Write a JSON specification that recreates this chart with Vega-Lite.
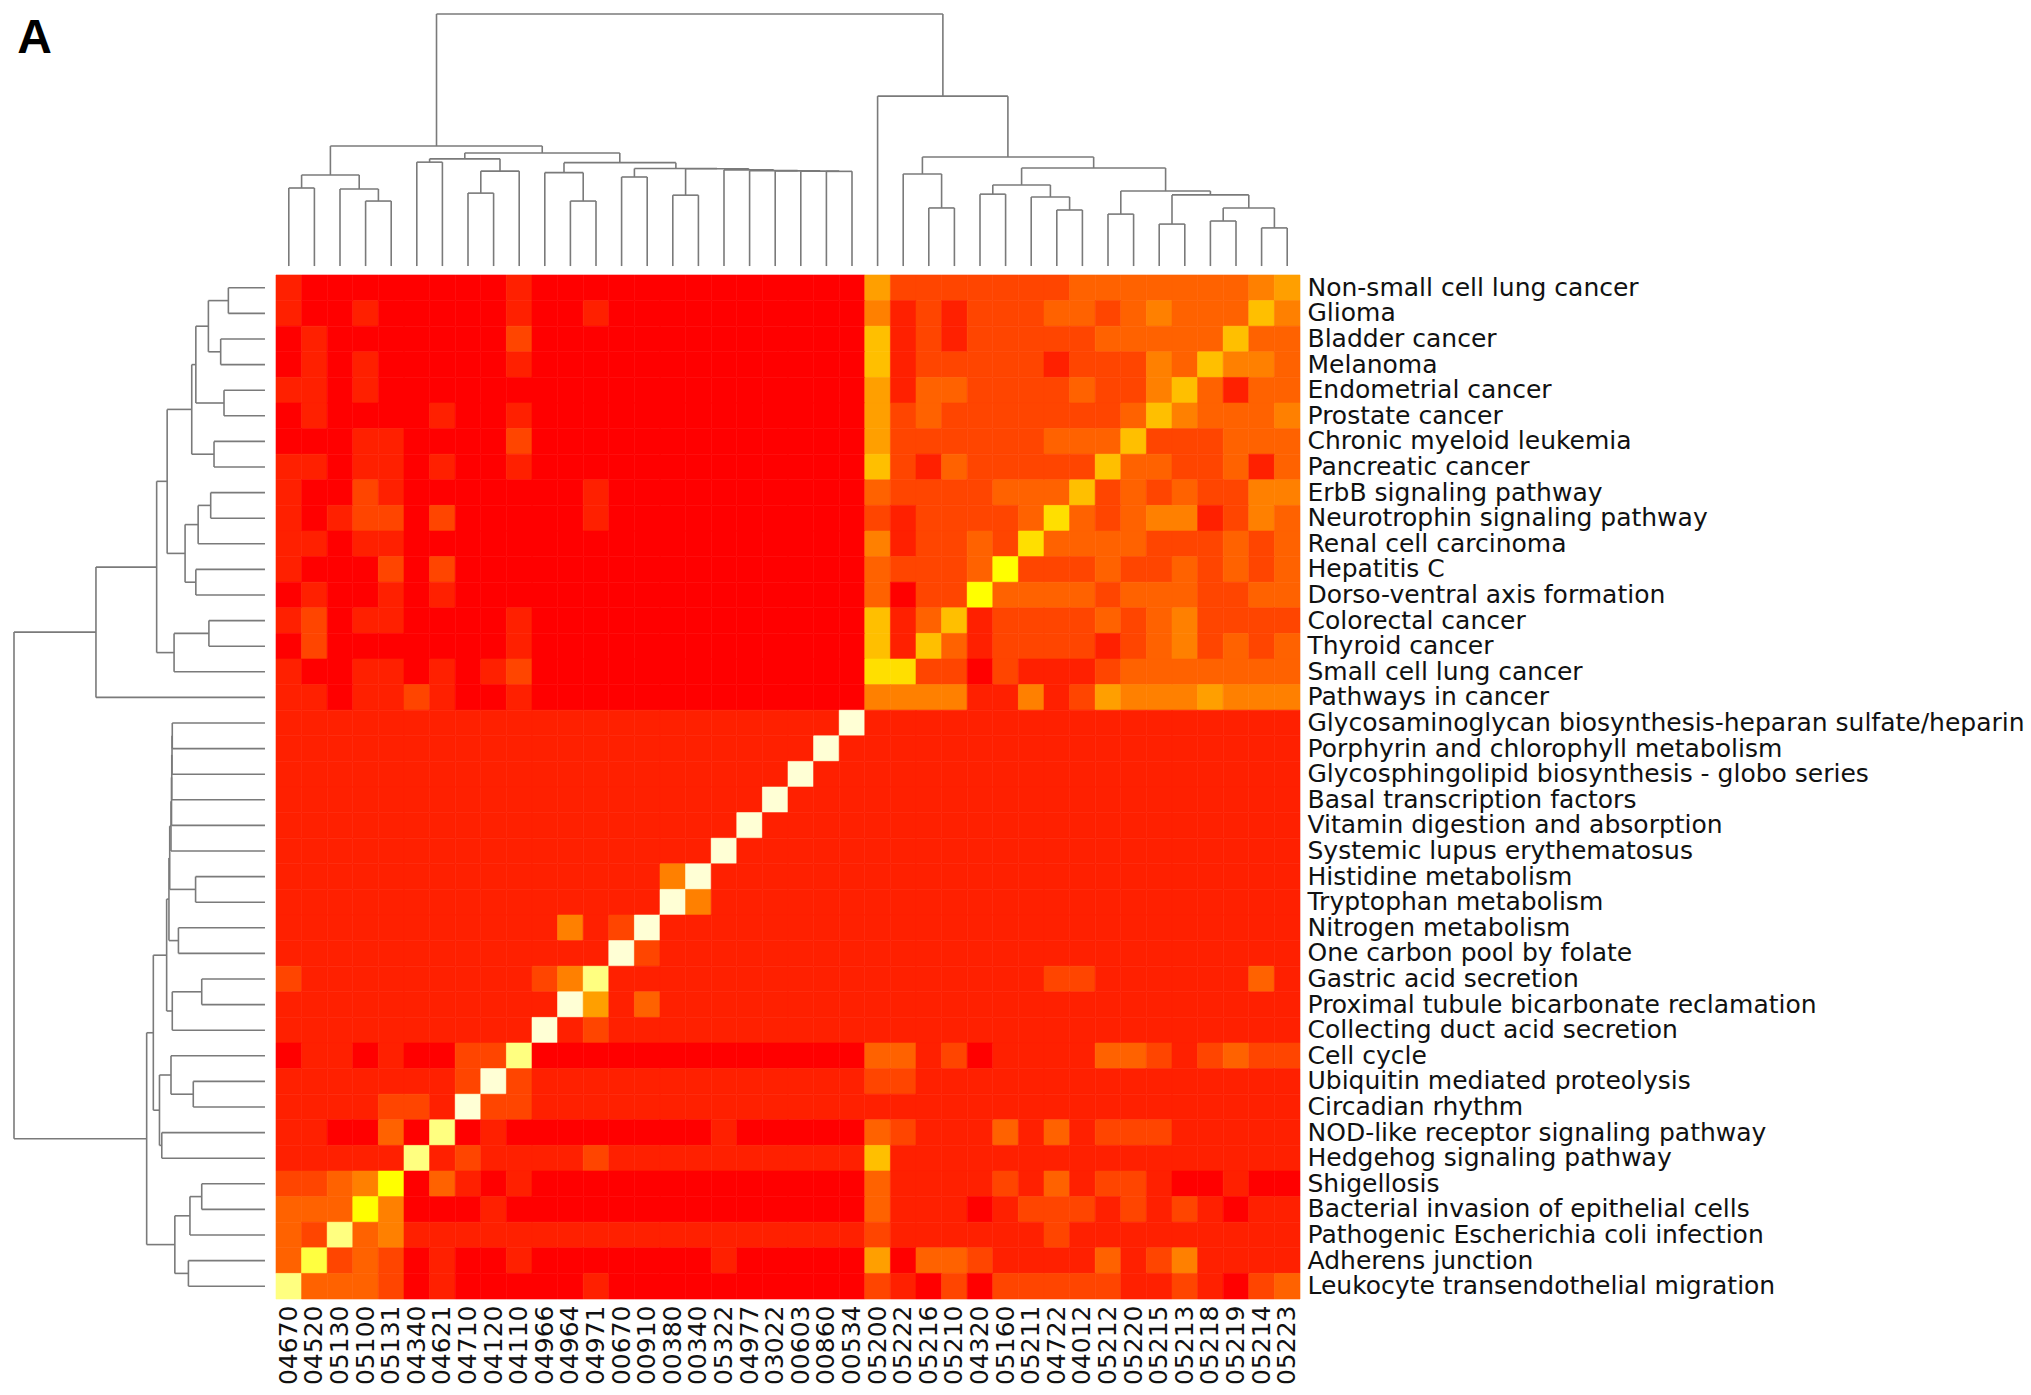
{
"$schema": "https://vega.github.io/schema/vega-lite/v6.json",
"padding": {"left": 13, "top": 13, "right": 4, "bottom": 4},
"background": "#ffffff",
"bounds": "flush",
"spacing": 0,
"columns": 2,
"config": {"view": {"stroke": null}},
"datasets": {
"topTree": [
{"l":0.5,"lh":40.35,"r":1.5,"rh":40.35,"h":43.40},
{"l":3.5,"lh":40.35,"r":4.5,"rh":40.35,"h":42.89},
{"l":2.5,"lh":40.35,"r":4.0,"rh":42.89,"h":43.36},
{"l":1.0,"lh":43.40,"r":3.25,"rh":43.36,"h":43.91},
{"l":5.5,"lh":40.35,"r":6.5,"rh":40.35,"h":44.41},
{"l":7.5,"lh":40.35,"r":8.5,"rh":40.35,"h":43.20},
{"l":8.0,"lh":43.20,"r":9.5,"rh":40.35,"h":44.06},
{"l":6.0,"lh":44.41,"r":8.75,"rh":44.06,"h":44.54},
{"l":11.5,"lh":40.35,"r":12.5,"rh":40.35,"h":42.89},
{"l":10.5,"lh":40.35,"r":12.0,"rh":42.89,"h":44.00},
{"l":13.5,"lh":40.35,"r":14.5,"rh":40.35,"h":43.83},
{"l":15.5,"lh":40.35,"r":16.5,"rh":40.35,"h":43.12},
{"l":21.5,"lh":40.35,"r":22.5,"rh":40.35,"h":44.05},
{"l":20.5,"lh":40.35,"r":22.0,"rh":44.05,"h":44.06},
{"l":19.5,"lh":40.35,"r":21.25,"rh":44.06,"h":44.07},
{"l":18.5,"lh":40.35,"r":20.375,"rh":44.07,"h":44.08},
{"l":17.5,"lh":40.35,"r":19.44,"rh":44.08,"h":44.11},
{"l":16.0,"lh":43.12,"r":18.47,"rh":44.11,"h":44.15},
{"l":14.0,"lh":43.83,"r":17.23,"rh":44.15,"h":44.16},
{"l":11.25,"lh":44.00,"r":15.62,"rh":44.16,"h":44.39},
{"l":7.375,"lh":44.54,"r":13.43,"rh":44.39,"h":44.77},
{"l":2.125,"lh":43.91,"r":10.40,"rh":44.77,"h":45.04},
{"l":25.5,"lh":40.35,"r":26.5,"rh":40.35,"h":42.62},
{"l":24.5,"lh":40.35,"r":26.0,"rh":42.62,"h":43.95},
{"l":27.5,"lh":40.35,"r":28.5,"rh":40.35,"h":43.16},
{"l":30.5,"lh":40.35,"r":31.5,"rh":40.35,"h":42.54},
{"l":29.5,"lh":40.35,"r":31.0,"rh":42.54,"h":43.05},
{"l":28.0,"lh":43.16,"r":30.25,"rh":43.05,"h":43.52},
{"l":32.5,"lh":40.35,"r":33.5,"rh":40.35,"h":42.38},
{"l":34.5,"lh":40.35,"r":35.5,"rh":40.35,"h":41.99},
{"l":36.5,"lh":40.35,"r":37.5,"rh":40.35,"h":42.11},
{"l":38.5,"lh":40.35,"r":39.5,"rh":40.35,"h":41.84},
{"l":37.0,"lh":42.11,"r":39.0,"rh":41.84,"h":42.62},
{"l":35.0,"lh":41.99,"r":38.0,"rh":42.62,"h":43.13},
{"l":33.0,"lh":42.38,"r":36.5,"rh":43.13,"h":43.28},
{"l":29.125,"lh":43.52,"r":34.75,"rh":43.28,"h":44.18},
{"l":25.25,"lh":43.95,"r":31.94,"rh":44.18,"h":44.61},
{"l":23.5,"lh":40.35,"r":28.59,"rh":44.61,"h":46.99},
{"l":6.27,"lh":45.04,"r":26.05,"rh":46.99,"h":50.2}
],
"leftTree": [
{"l":39.5,"lh":-0.43,"r":38.5,"rh":-0.43,"h":-1.86},
{"l":37.5,"lh":-0.43,"r":36.5,"rh":-0.43,"h":-2.16},
{"l":39.0,"lh":-1.86,"r":37.0,"rh":-2.16,"h":-2.64},
{"l":35.5,"lh":-0.43,"r":34.5,"rh":-0.43,"h":-2.03},
{"l":38.0,"lh":-2.64,"r":35.0,"rh":-2.03,"h":-3.13},
{"l":33.5,"lh":-0.43,"r":32.5,"rh":-0.43,"h":-2.42},
{"l":36.5,"lh":-3.13,"r":33.0,"rh":-2.42,"h":-3.29},
{"l":31.5,"lh":-0.43,"r":30.5,"rh":-0.43,"h":-2.55},
{"l":31.0,"lh":-2.55,"r":29.5,"rh":-0.43,"h":-3.04},
{"l":28.5,"lh":-0.43,"r":27.5,"rh":-0.43,"h":-3.13},
{"l":30.25,"lh":-3.04,"r":28.0,"rh":-3.13,"h":-3.55},
{"l":34.75,"lh":-3.29,"r":29.125,"rh":-3.55,"h":-4.25},
{"l":26.5,"lh":-0.43,"r":25.5,"rh":-0.43,"h":-2.62},
{"l":26.0,"lh":-2.62,"r":24.5,"rh":-0.43,"h":-3.98},
{"l":31.94,"lh":-4.25,"r":25.25,"rh":-3.98,"h":-4.66},
{"l":28.59,"lh":-4.66,"r":23.5,"rh":-0.43,"h":-7.03},
{"l":22.5,"lh":-0.43,"r":21.5,"rh":-0.43,"h":-4.05},
{"l":22.0,"lh":-4.05,"r":20.5,"rh":-0.43,"h":-4.06},
{"l":21.25,"lh":-4.06,"r":19.5,"rh":-0.43,"h":-4.07},
{"l":20.375,"lh":-4.07,"r":18.5,"rh":-0.43,"h":-4.08},
{"l":19.44,"lh":-4.08,"r":17.5,"rh":-0.43,"h":-4.10},
{"l":16.5,"lh":-0.43,"r":15.5,"rh":-0.43,"h":-3.14},
{"l":18.47,"lh":-4.10,"r":16.0,"rh":-3.14,"h":-4.15},
{"l":14.5,"lh":-0.43,"r":13.5,"rh":-0.43,"h":-3.81},
{"l":17.23,"lh":-4.15,"r":14.0,"rh":-3.81,"h":-4.18},
{"l":12.5,"lh":-0.43,"r":11.5,"rh":-0.43,"h":-2.90},
{"l":12.0,"lh":-2.90,"r":10.5,"rh":-0.43,"h":-4.05},
{"l":15.62,"lh":-4.18,"r":11.25,"rh":-4.05,"h":-4.27},
{"l":8.5,"lh":-0.43,"r":7.5,"rh":-0.43,"h":-3.23},
{"l":9.5,"lh":-0.43,"r":8.0,"rh":-3.23,"h":-4.10},
{"l":6.5,"lh":-0.43,"r":5.5,"rh":-0.43,"h":-4.46},
{"l":8.75,"lh":-4.10,"r":6.0,"rh":-4.46,"h":-4.55},
{"l":13.43,"lh":-4.27,"r":7.375,"rh":-4.55,"h":-4.79},
{"l":4.5,"lh":-0.43,"r":3.5,"rh":-0.43,"h":-2.90},
{"l":4.0,"lh":-2.90,"r":2.5,"rh":-0.43,"h":-3.36},
{"l":1.5,"lh":-0.43,"r":0.5,"rh":-0.43,"h":-3.42},
{"l":3.25,"lh":-3.36,"r":1.0,"rh":-3.42,"h":-3.95},
{"l":10.40,"lh":-4.79,"r":2.125,"rh":-3.95,"h":-5.05},
{"l":26.05,"lh":-7.03,"r":6.26,"rh":-5.05,"h":-10.23}
],
"cells": [
{"r":1,"c":1,"v":1},{"r":1,"c":2,"v":0},{"r":1,"c":3,"v":0},{"r":1,"c":4,"v":0},{"r":1,"c":5,"v":0},{"r":1,"c":6,"v":0},{"r":1,"c":7,"v":0},{"r":1,"c":8,"v":0},{"r":1,"c":9,"v":0},{"r":1,"c":10,"v":1},{"r":1,"c":11,"v":0},{"r":1,"c":12,"v":0},{"r":1,"c":13,"v":0},{"r":1,"c":14,"v":0},{"r":1,"c":15,"v":0},{"r":1,"c":16,"v":0},{"r":1,"c":17,"v":0},{"r":1,"c":18,"v":0},{"r":1,"c":19,"v":0},{"r":1,"c":20,"v":0},{"r":1,"c":21,"v":0},{"r":1,"c":22,"v":0},{"r":1,"c":23,"v":0},{"r":1,"c":24,"v":5},{"r":1,"c":25,"v":2},{"r":1,"c":26,"v":2},{"r":1,"c":27,"v":2},{"r":1,"c":28,"v":2},{"r":1,"c":29,"v":2},{"r":1,"c":30,"v":2},{"r":1,"c":31,"v":2},{"r":1,"c":32,"v":3},{"r":1,"c":33,"v":3},{"r":1,"c":34,"v":3},{"r":1,"c":35,"v":3},{"r":1,"c":36,"v":3},{"r":1,"c":37,"v":3},{"r":1,"c":38,"v":3},{"r":1,"c":39,"v":4},{"r":1,"c":40,"v":5},
{"r":2,"c":1,"v":1},{"r":2,"c":2,"v":0},{"r":2,"c":3,"v":0},{"r":2,"c":4,"v":1},{"r":2,"c":5,"v":0},{"r":2,"c":6,"v":0},{"r":2,"c":7,"v":0},{"r":2,"c":8,"v":0},{"r":2,"c":9,"v":0},{"r":2,"c":10,"v":1},{"r":2,"c":11,"v":0},{"r":2,"c":12,"v":0},{"r":2,"c":13,"v":1},{"r":2,"c":14,"v":0},{"r":2,"c":15,"v":0},{"r":2,"c":16,"v":0},{"r":2,"c":17,"v":0},{"r":2,"c":18,"v":0},{"r":2,"c":19,"v":0},{"r":2,"c":20,"v":0},{"r":2,"c":21,"v":0},{"r":2,"c":22,"v":0},{"r":2,"c":23,"v":0},{"r":2,"c":24,"v":4},{"r":2,"c":25,"v":1},{"r":2,"c":26,"v":2},{"r":2,"c":27,"v":1},{"r":2,"c":28,"v":2},{"r":2,"c":29,"v":2},{"r":2,"c":30,"v":2},{"r":2,"c":31,"v":3},{"r":2,"c":32,"v":3},{"r":2,"c":33,"v":2},{"r":2,"c":34,"v":3},{"r":2,"c":35,"v":4},{"r":2,"c":36,"v":3},{"r":2,"c":37,"v":3},{"r":2,"c":38,"v":3},{"r":2,"c":39,"v":6},{"r":2,"c":40,"v":4},
{"r":3,"c":1,"v":0},{"r":3,"c":2,"v":1},{"r":3,"c":3,"v":0},{"r":3,"c":4,"v":0},{"r":3,"c":5,"v":0},{"r":3,"c":6,"v":0},{"r":3,"c":7,"v":0},{"r":3,"c":8,"v":0},{"r":3,"c":9,"v":0},{"r":3,"c":10,"v":2},{"r":3,"c":11,"v":0},{"r":3,"c":12,"v":0},{"r":3,"c":13,"v":0},{"r":3,"c":14,"v":0},{"r":3,"c":15,"v":0},{"r":3,"c":16,"v":0},{"r":3,"c":17,"v":0},{"r":3,"c":18,"v":0},{"r":3,"c":19,"v":0},{"r":3,"c":20,"v":0},{"r":3,"c":21,"v":0},{"r":3,"c":22,"v":0},{"r":3,"c":23,"v":0},{"r":3,"c":24,"v":6},{"r":3,"c":25,"v":1},{"r":3,"c":26,"v":2},{"r":3,"c":27,"v":1},{"r":3,"c":28,"v":2},{"r":3,"c":29,"v":2},{"r":3,"c":30,"v":2},{"r":3,"c":31,"v":2},{"r":3,"c":32,"v":2},{"r":3,"c":33,"v":3},{"r":3,"c":34,"v":3},{"r":3,"c":35,"v":3},{"r":3,"c":36,"v":3},{"r":3,"c":37,"v":3},{"r":3,"c":38,"v":6},{"r":3,"c":39,"v":3},{"r":3,"c":40,"v":3},
{"r":4,"c":1,"v":0},{"r":4,"c":2,"v":1},{"r":4,"c":3,"v":0},{"r":4,"c":4,"v":1},{"r":4,"c":5,"v":0},{"r":4,"c":6,"v":0},{"r":4,"c":7,"v":0},{"r":4,"c":8,"v":0},{"r":4,"c":9,"v":0},{"r":4,"c":10,"v":1},{"r":4,"c":11,"v":0},{"r":4,"c":12,"v":0},{"r":4,"c":13,"v":0},{"r":4,"c":14,"v":0},{"r":4,"c":15,"v":0},{"r":4,"c":16,"v":0},{"r":4,"c":17,"v":0},{"r":4,"c":18,"v":0},{"r":4,"c":19,"v":0},{"r":4,"c":20,"v":0},{"r":4,"c":21,"v":0},{"r":4,"c":22,"v":0},{"r":4,"c":23,"v":0},{"r":4,"c":24,"v":6},{"r":4,"c":25,"v":1},{"r":4,"c":26,"v":2},{"r":4,"c":27,"v":2},{"r":4,"c":28,"v":2},{"r":4,"c":29,"v":2},{"r":4,"c":30,"v":2},{"r":4,"c":31,"v":1},{"r":4,"c":32,"v":2},{"r":4,"c":33,"v":2},{"r":4,"c":34,"v":2},{"r":4,"c":35,"v":4},{"r":4,"c":36,"v":3},{"r":4,"c":37,"v":6},{"r":4,"c":38,"v":4},{"r":4,"c":39,"v":4},{"r":4,"c":40,"v":3},
{"r":5,"c":1,"v":1},{"r":5,"c":2,"v":1},{"r":5,"c":3,"v":0},{"r":5,"c":4,"v":1},{"r":5,"c":5,"v":0},{"r":5,"c":6,"v":0},{"r":5,"c":7,"v":0},{"r":5,"c":8,"v":0},{"r":5,"c":9,"v":0},{"r":5,"c":10,"v":0},{"r":5,"c":11,"v":0},{"r":5,"c":12,"v":0},{"r":5,"c":13,"v":0},{"r":5,"c":14,"v":0},{"r":5,"c":15,"v":0},{"r":5,"c":16,"v":0},{"r":5,"c":17,"v":0},{"r":5,"c":18,"v":0},{"r":5,"c":19,"v":0},{"r":5,"c":20,"v":0},{"r":5,"c":21,"v":0},{"r":5,"c":22,"v":0},{"r":5,"c":23,"v":0},{"r":5,"c":24,"v":5},{"r":5,"c":25,"v":1},{"r":5,"c":26,"v":3},{"r":5,"c":27,"v":3},{"r":5,"c":28,"v":2},{"r":5,"c":29,"v":2},{"r":5,"c":30,"v":2},{"r":5,"c":31,"v":2},{"r":5,"c":32,"v":3},{"r":5,"c":33,"v":2},{"r":5,"c":34,"v":2},{"r":5,"c":35,"v":4},{"r":5,"c":36,"v":6},{"r":5,"c":37,"v":3},{"r":5,"c":38,"v":1},{"r":5,"c":39,"v":3},{"r":5,"c":40,"v":3},
{"r":6,"c":1,"v":0},{"r":6,"c":2,"v":1},{"r":6,"c":3,"v":0},{"r":6,"c":4,"v":0},{"r":6,"c":5,"v":0},{"r":6,"c":6,"v":0},{"r":6,"c":7,"v":1},{"r":6,"c":8,"v":0},{"r":6,"c":9,"v":0},{"r":6,"c":10,"v":1},{"r":6,"c":11,"v":0},{"r":6,"c":12,"v":0},{"r":6,"c":13,"v":0},{"r":6,"c":14,"v":0},{"r":6,"c":15,"v":0},{"r":6,"c":16,"v":0},{"r":6,"c":17,"v":0},{"r":6,"c":18,"v":0},{"r":6,"c":19,"v":0},{"r":6,"c":20,"v":0},{"r":6,"c":21,"v":0},{"r":6,"c":22,"v":0},{"r":6,"c":23,"v":0},{"r":6,"c":24,"v":5},{"r":6,"c":25,"v":2},{"r":6,"c":26,"v":3},{"r":6,"c":27,"v":2},{"r":6,"c":28,"v":2},{"r":6,"c":29,"v":2},{"r":6,"c":30,"v":2},{"r":6,"c":31,"v":2},{"r":6,"c":32,"v":2},{"r":6,"c":33,"v":2},{"r":6,"c":34,"v":3},{"r":6,"c":35,"v":6},{"r":6,"c":36,"v":4},{"r":6,"c":37,"v":3},{"r":6,"c":38,"v":3},{"r":6,"c":39,"v":3},{"r":6,"c":40,"v":4},
{"r":7,"c":1,"v":0},{"r":7,"c":2,"v":0},{"r":7,"c":3,"v":0},{"r":7,"c":4,"v":1},{"r":7,"c":5,"v":1},{"r":7,"c":6,"v":0},{"r":7,"c":7,"v":0},{"r":7,"c":8,"v":0},{"r":7,"c":9,"v":0},{"r":7,"c":10,"v":2},{"r":7,"c":11,"v":0},{"r":7,"c":12,"v":0},{"r":7,"c":13,"v":0},{"r":7,"c":14,"v":0},{"r":7,"c":15,"v":0},{"r":7,"c":16,"v":0},{"r":7,"c":17,"v":0},{"r":7,"c":18,"v":0},{"r":7,"c":19,"v":0},{"r":7,"c":20,"v":0},{"r":7,"c":21,"v":0},{"r":7,"c":22,"v":0},{"r":7,"c":23,"v":0},{"r":7,"c":24,"v":5},{"r":7,"c":25,"v":2},{"r":7,"c":26,"v":2},{"r":7,"c":27,"v":2},{"r":7,"c":28,"v":2},{"r":7,"c":29,"v":2},{"r":7,"c":30,"v":2},{"r":7,"c":31,"v":3},{"r":7,"c":32,"v":3},{"r":7,"c":33,"v":3},{"r":7,"c":34,"v":6},{"r":7,"c":35,"v":2},{"r":7,"c":36,"v":2},{"r":7,"c":37,"v":2},{"r":7,"c":38,"v":3},{"r":7,"c":39,"v":3},{"r":7,"c":40,"v":3},
{"r":8,"c":1,"v":1},{"r":8,"c":2,"v":1},{"r":8,"c":3,"v":0},{"r":8,"c":4,"v":1},{"r":8,"c":5,"v":1},{"r":8,"c":6,"v":0},{"r":8,"c":7,"v":1},{"r":8,"c":8,"v":0},{"r":8,"c":9,"v":0},{"r":8,"c":10,"v":1},{"r":8,"c":11,"v":0},{"r":8,"c":12,"v":0},{"r":8,"c":13,"v":0},{"r":8,"c":14,"v":0},{"r":8,"c":15,"v":0},{"r":8,"c":16,"v":0},{"r":8,"c":17,"v":0},{"r":8,"c":18,"v":0},{"r":8,"c":19,"v":0},{"r":8,"c":20,"v":0},{"r":8,"c":21,"v":0},{"r":8,"c":22,"v":0},{"r":8,"c":23,"v":0},{"r":8,"c":24,"v":6},{"r":8,"c":25,"v":2},{"r":8,"c":26,"v":1},{"r":8,"c":27,"v":3},{"r":8,"c":28,"v":2},{"r":8,"c":29,"v":2},{"r":8,"c":30,"v":2},{"r":8,"c":31,"v":2},{"r":8,"c":32,"v":2},{"r":8,"c":33,"v":6},{"r":8,"c":34,"v":3},{"r":8,"c":35,"v":3},{"r":8,"c":36,"v":2},{"r":8,"c":37,"v":2},{"r":8,"c":38,"v":3},{"r":8,"c":39,"v":1},{"r":8,"c":40,"v":3},
{"r":9,"c":1,"v":1},{"r":9,"c":2,"v":0},{"r":9,"c":3,"v":0},{"r":9,"c":4,"v":2},{"r":9,"c":5,"v":1},{"r":9,"c":6,"v":0},{"r":9,"c":7,"v":0},{"r":9,"c":8,"v":0},{"r":9,"c":9,"v":0},{"r":9,"c":10,"v":0},{"r":9,"c":11,"v":0},{"r":9,"c":12,"v":0},{"r":9,"c":13,"v":1},{"r":9,"c":14,"v":0},{"r":9,"c":15,"v":0},{"r":9,"c":16,"v":0},{"r":9,"c":17,"v":0},{"r":9,"c":18,"v":0},{"r":9,"c":19,"v":0},{"r":9,"c":20,"v":0},{"r":9,"c":21,"v":0},{"r":9,"c":22,"v":0},{"r":9,"c":23,"v":0},{"r":9,"c":24,"v":3},{"r":9,"c":25,"v":2},{"r":9,"c":26,"v":2},{"r":9,"c":27,"v":2},{"r":9,"c":28,"v":2},{"r":9,"c":29,"v":3},{"r":9,"c":30,"v":3},{"r":9,"c":31,"v":3},{"r":9,"c":32,"v":6},{"r":9,"c":33,"v":2},{"r":9,"c":34,"v":3},{"r":9,"c":35,"v":2},{"r":9,"c":36,"v":3},{"r":9,"c":37,"v":2},{"r":9,"c":38,"v":2},{"r":9,"c":39,"v":4},{"r":9,"c":40,"v":4},
{"r":10,"c":1,"v":1},{"r":10,"c":2,"v":0},{"r":10,"c":3,"v":1},{"r":10,"c":4,"v":2},{"r":10,"c":5,"v":2},{"r":10,"c":6,"v":0},{"r":10,"c":7,"v":2},{"r":10,"c":8,"v":0},{"r":10,"c":9,"v":0},{"r":10,"c":10,"v":0},{"r":10,"c":11,"v":0},{"r":10,"c":12,"v":0},{"r":10,"c":13,"v":1},{"r":10,"c":14,"v":0},{"r":10,"c":15,"v":0},{"r":10,"c":16,"v":0},{"r":10,"c":17,"v":0},{"r":10,"c":18,"v":0},{"r":10,"c":19,"v":0},{"r":10,"c":20,"v":0},{"r":10,"c":21,"v":0},{"r":10,"c":22,"v":0},{"r":10,"c":23,"v":0},{"r":10,"c":24,"v":2},{"r":10,"c":25,"v":1},{"r":10,"c":26,"v":2},{"r":10,"c":27,"v":2},{"r":10,"c":28,"v":2},{"r":10,"c":29,"v":2},{"r":10,"c":30,"v":3},{"r":10,"c":31,"v":7},{"r":10,"c":32,"v":3},{"r":10,"c":33,"v":2},{"r":10,"c":34,"v":3},{"r":10,"c":35,"v":4},{"r":10,"c":36,"v":4},{"r":10,"c":37,"v":1},{"r":10,"c":38,"v":2},{"r":10,"c":39,"v":4},{"r":10,"c":40,"v":3},
{"r":11,"c":1,"v":1},{"r":11,"c":2,"v":1},{"r":11,"c":3,"v":0},{"r":11,"c":4,"v":1},{"r":11,"c":5,"v":1},{"r":11,"c":6,"v":0},{"r":11,"c":7,"v":0},{"r":11,"c":8,"v":0},{"r":11,"c":9,"v":0},{"r":11,"c":10,"v":0},{"r":11,"c":11,"v":0},{"r":11,"c":12,"v":0},{"r":11,"c":13,"v":0},{"r":11,"c":14,"v":0},{"r":11,"c":15,"v":0},{"r":11,"c":16,"v":0},{"r":11,"c":17,"v":0},{"r":11,"c":18,"v":0},{"r":11,"c":19,"v":0},{"r":11,"c":20,"v":0},{"r":11,"c":21,"v":0},{"r":11,"c":22,"v":0},{"r":11,"c":23,"v":0},{"r":11,"c":24,"v":4},{"r":11,"c":25,"v":1},{"r":11,"c":26,"v":2},{"r":11,"c":27,"v":2},{"r":11,"c":28,"v":3},{"r":11,"c":29,"v":2},{"r":11,"c":30,"v":7},{"r":11,"c":31,"v":3},{"r":11,"c":32,"v":3},{"r":11,"c":33,"v":3},{"r":11,"c":34,"v":3},{"r":11,"c":35,"v":2},{"r":11,"c":36,"v":2},{"r":11,"c":37,"v":2},{"r":11,"c":38,"v":3},{"r":11,"c":39,"v":2},{"r":11,"c":40,"v":3},
{"r":12,"c":1,"v":1},{"r":12,"c":2,"v":0},{"r":12,"c":3,"v":0},{"r":12,"c":4,"v":0},{"r":12,"c":5,"v":2},{"r":12,"c":6,"v":0},{"r":12,"c":7,"v":2},{"r":12,"c":8,"v":0},{"r":12,"c":9,"v":0},{"r":12,"c":10,"v":0},{"r":12,"c":11,"v":0},{"r":12,"c":12,"v":0},{"r":12,"c":13,"v":0},{"r":12,"c":14,"v":0},{"r":12,"c":15,"v":0},{"r":12,"c":16,"v":0},{"r":12,"c":17,"v":0},{"r":12,"c":18,"v":0},{"r":12,"c":19,"v":0},{"r":12,"c":20,"v":0},{"r":12,"c":21,"v":0},{"r":12,"c":22,"v":0},{"r":12,"c":23,"v":0},{"r":12,"c":24,"v":3},{"r":12,"c":25,"v":2},{"r":12,"c":26,"v":2},{"r":12,"c":27,"v":2},{"r":12,"c":28,"v":3},{"r":12,"c":29,"v":8},{"r":12,"c":30,"v":2},{"r":12,"c":31,"v":2},{"r":12,"c":32,"v":2},{"r":12,"c":33,"v":3},{"r":12,"c":34,"v":2},{"r":12,"c":35,"v":2},{"r":12,"c":36,"v":3},{"r":12,"c":37,"v":2},{"r":12,"c":38,"v":3},{"r":12,"c":39,"v":2},{"r":12,"c":40,"v":3},
{"r":13,"c":1,"v":0},{"r":13,"c":2,"v":1},{"r":13,"c":3,"v":0},{"r":13,"c":4,"v":0},{"r":13,"c":5,"v":1},{"r":13,"c":6,"v":0},{"r":13,"c":7,"v":1},{"r":13,"c":8,"v":0},{"r":13,"c":9,"v":0},{"r":13,"c":10,"v":0},{"r":13,"c":11,"v":0},{"r":13,"c":12,"v":0},{"r":13,"c":13,"v":0},{"r":13,"c":14,"v":0},{"r":13,"c":15,"v":0},{"r":13,"c":16,"v":0},{"r":13,"c":17,"v":0},{"r":13,"c":18,"v":0},{"r":13,"c":19,"v":0},{"r":13,"c":20,"v":0},{"r":13,"c":21,"v":0},{"r":13,"c":22,"v":0},{"r":13,"c":23,"v":0},{"r":13,"c":24,"v":3},{"r":13,"c":25,"v":0},{"r":13,"c":26,"v":2},{"r":13,"c":27,"v":2},{"r":13,"c":28,"v":8},{"r":13,"c":29,"v":3},{"r":13,"c":30,"v":3},{"r":13,"c":31,"v":3},{"r":13,"c":32,"v":3},{"r":13,"c":33,"v":2},{"r":13,"c":34,"v":3},{"r":13,"c":35,"v":3},{"r":13,"c":36,"v":3},{"r":13,"c":37,"v":2},{"r":13,"c":38,"v":2},{"r":13,"c":39,"v":3},{"r":13,"c":40,"v":3},
{"r":14,"c":1,"v":1},{"r":14,"c":2,"v":2},{"r":14,"c":3,"v":0},{"r":14,"c":4,"v":1},{"r":14,"c":5,"v":1},{"r":14,"c":6,"v":0},{"r":14,"c":7,"v":0},{"r":14,"c":8,"v":0},{"r":14,"c":9,"v":0},{"r":14,"c":10,"v":1},{"r":14,"c":11,"v":0},{"r":14,"c":12,"v":0},{"r":14,"c":13,"v":0},{"r":14,"c":14,"v":0},{"r":14,"c":15,"v":0},{"r":14,"c":16,"v":0},{"r":14,"c":17,"v":0},{"r":14,"c":18,"v":0},{"r":14,"c":19,"v":0},{"r":14,"c":20,"v":0},{"r":14,"c":21,"v":0},{"r":14,"c":22,"v":0},{"r":14,"c":23,"v":0},{"r":14,"c":24,"v":6},{"r":14,"c":25,"v":1},{"r":14,"c":26,"v":3},{"r":14,"c":27,"v":6},{"r":14,"c":28,"v":1},{"r":14,"c":29,"v":2},{"r":14,"c":30,"v":2},{"r":14,"c":31,"v":2},{"r":14,"c":32,"v":2},{"r":14,"c":33,"v":3},{"r":14,"c":34,"v":2},{"r":14,"c":35,"v":3},{"r":14,"c":36,"v":4},{"r":14,"c":37,"v":2},{"r":14,"c":38,"v":2},{"r":14,"c":39,"v":2},{"r":14,"c":40,"v":2},
{"r":15,"c":1,"v":0},{"r":15,"c":2,"v":2},{"r":15,"c":3,"v":0},{"r":15,"c":4,"v":0},{"r":15,"c":5,"v":0},{"r":15,"c":6,"v":0},{"r":15,"c":7,"v":0},{"r":15,"c":8,"v":0},{"r":15,"c":9,"v":0},{"r":15,"c":10,"v":1},{"r":15,"c":11,"v":0},{"r":15,"c":12,"v":0},{"r":15,"c":13,"v":0},{"r":15,"c":14,"v":0},{"r":15,"c":15,"v":0},{"r":15,"c":16,"v":0},{"r":15,"c":17,"v":0},{"r":15,"c":18,"v":0},{"r":15,"c":19,"v":0},{"r":15,"c":20,"v":0},{"r":15,"c":21,"v":0},{"r":15,"c":22,"v":0},{"r":15,"c":23,"v":0},{"r":15,"c":24,"v":6},{"r":15,"c":25,"v":1},{"r":15,"c":26,"v":6},{"r":15,"c":27,"v":3},{"r":15,"c":28,"v":1},{"r":15,"c":29,"v":2},{"r":15,"c":30,"v":2},{"r":15,"c":31,"v":2},{"r":15,"c":32,"v":2},{"r":15,"c":33,"v":1},{"r":15,"c":34,"v":2},{"r":15,"c":35,"v":3},{"r":15,"c":36,"v":4},{"r":15,"c":37,"v":2},{"r":15,"c":38,"v":3},{"r":15,"c":39,"v":2},{"r":15,"c":40,"v":3},
{"r":16,"c":1,"v":1},{"r":16,"c":2,"v":0},{"r":16,"c":3,"v":0},{"r":16,"c":4,"v":1},{"r":16,"c":5,"v":1},{"r":16,"c":6,"v":0},{"r":16,"c":7,"v":1},{"r":16,"c":8,"v":0},{"r":16,"c":9,"v":1},{"r":16,"c":10,"v":2},{"r":16,"c":11,"v":0},{"r":16,"c":12,"v":0},{"r":16,"c":13,"v":0},{"r":16,"c":14,"v":0},{"r":16,"c":15,"v":0},{"r":16,"c":16,"v":0},{"r":16,"c":17,"v":0},{"r":16,"c":18,"v":0},{"r":16,"c":19,"v":0},{"r":16,"c":20,"v":0},{"r":16,"c":21,"v":0},{"r":16,"c":22,"v":0},{"r":16,"c":23,"v":0},{"r":16,"c":24,"v":7},{"r":16,"c":25,"v":7},{"r":16,"c":26,"v":2},{"r":16,"c":27,"v":2},{"r":16,"c":28,"v":0},{"r":16,"c":29,"v":2},{"r":16,"c":30,"v":1},{"r":16,"c":31,"v":1},{"r":16,"c":32,"v":1},{"r":16,"c":33,"v":2},{"r":16,"c":34,"v":3},{"r":16,"c":35,"v":3},{"r":16,"c":36,"v":3},{"r":16,"c":37,"v":3},{"r":16,"c":38,"v":3},{"r":16,"c":39,"v":3},{"r":16,"c":40,"v":3},
{"r":17,"c":1,"v":1},{"r":17,"c":2,"v":1},{"r":17,"c":3,"v":0},{"r":17,"c":4,"v":1},{"r":17,"c":5,"v":1},{"r":17,"c":6,"v":2},{"r":17,"c":7,"v":1},{"r":17,"c":8,"v":0},{"r":17,"c":9,"v":0},{"r":17,"c":10,"v":1},{"r":17,"c":11,"v":0},{"r":17,"c":12,"v":0},{"r":17,"c":13,"v":0},{"r":17,"c":14,"v":0},{"r":17,"c":15,"v":0},{"r":17,"c":16,"v":0},{"r":17,"c":17,"v":0},{"r":17,"c":18,"v":0},{"r":17,"c":19,"v":0},{"r":17,"c":20,"v":0},{"r":17,"c":21,"v":0},{"r":17,"c":22,"v":0},{"r":17,"c":23,"v":0},{"r":17,"c":24,"v":4},{"r":17,"c":25,"v":4},{"r":17,"c":26,"v":4},{"r":17,"c":27,"v":4},{"r":17,"c":28,"v":1},{"r":17,"c":29,"v":1},{"r":17,"c":30,"v":4},{"r":17,"c":31,"v":1},{"r":17,"c":32,"v":2},{"r":17,"c":33,"v":5},{"r":17,"c":34,"v":4},{"r":17,"c":35,"v":4},{"r":17,"c":36,"v":4},{"r":17,"c":37,"v":5},{"r":17,"c":38,"v":4},{"r":17,"c":39,"v":4},{"r":17,"c":40,"v":4},
{"r":18,"c":1,"v":1},{"r":18,"c":2,"v":1},{"r":18,"c":3,"v":1},{"r":18,"c":4,"v":1},{"r":18,"c":5,"v":1},{"r":18,"c":6,"v":1},{"r":18,"c":7,"v":1},{"r":18,"c":8,"v":1},{"r":18,"c":9,"v":1},{"r":18,"c":10,"v":1},{"r":18,"c":11,"v":1},{"r":18,"c":12,"v":1},{"r":18,"c":13,"v":1},{"r":18,"c":14,"v":1},{"r":18,"c":15,"v":1},{"r":18,"c":16,"v":1},{"r":18,"c":17,"v":1},{"r":18,"c":18,"v":1},{"r":18,"c":19,"v":1},{"r":18,"c":20,"v":1},{"r":18,"c":21,"v":1},{"r":18,"c":22,"v":1},{"r":18,"c":23,"v":11},{"r":18,"c":24,"v":1},{"r":18,"c":25,"v":1},{"r":18,"c":26,"v":1},{"r":18,"c":27,"v":1},{"r":18,"c":28,"v":1},{"r":18,"c":29,"v":1},{"r":18,"c":30,"v":1},{"r":18,"c":31,"v":1},{"r":18,"c":32,"v":1},{"r":18,"c":33,"v":1},{"r":18,"c":34,"v":1},{"r":18,"c":35,"v":1},{"r":18,"c":36,"v":1},{"r":18,"c":37,"v":1},{"r":18,"c":38,"v":1},{"r":18,"c":39,"v":1},{"r":18,"c":40,"v":1},
{"r":19,"c":1,"v":1},{"r":19,"c":2,"v":1},{"r":19,"c":3,"v":1},{"r":19,"c":4,"v":1},{"r":19,"c":5,"v":1},{"r":19,"c":6,"v":1},{"r":19,"c":7,"v":1},{"r":19,"c":8,"v":1},{"r":19,"c":9,"v":1},{"r":19,"c":10,"v":1},{"r":19,"c":11,"v":1},{"r":19,"c":12,"v":1},{"r":19,"c":13,"v":1},{"r":19,"c":14,"v":1},{"r":19,"c":15,"v":1},{"r":19,"c":16,"v":1},{"r":19,"c":17,"v":1},{"r":19,"c":18,"v":1},{"r":19,"c":19,"v":1},{"r":19,"c":20,"v":1},{"r":19,"c":21,"v":1},{"r":19,"c":22,"v":11},{"r":19,"c":23,"v":1},{"r":19,"c":24,"v":1},{"r":19,"c":25,"v":1},{"r":19,"c":26,"v":1},{"r":19,"c":27,"v":1},{"r":19,"c":28,"v":1},{"r":19,"c":29,"v":1},{"r":19,"c":30,"v":1},{"r":19,"c":31,"v":1},{"r":19,"c":32,"v":1},{"r":19,"c":33,"v":1},{"r":19,"c":34,"v":1},{"r":19,"c":35,"v":1},{"r":19,"c":36,"v":1},{"r":19,"c":37,"v":1},{"r":19,"c":38,"v":1},{"r":19,"c":39,"v":1},{"r":19,"c":40,"v":1},
{"r":20,"c":1,"v":1},{"r":20,"c":2,"v":1},{"r":20,"c":3,"v":1},{"r":20,"c":4,"v":1},{"r":20,"c":5,"v":1},{"r":20,"c":6,"v":1},{"r":20,"c":7,"v":1},{"r":20,"c":8,"v":1},{"r":20,"c":9,"v":1},{"r":20,"c":10,"v":1},{"r":20,"c":11,"v":1},{"r":20,"c":12,"v":1},{"r":20,"c":13,"v":1},{"r":20,"c":14,"v":1},{"r":20,"c":15,"v":1},{"r":20,"c":16,"v":1},{"r":20,"c":17,"v":1},{"r":20,"c":18,"v":1},{"r":20,"c":19,"v":1},{"r":20,"c":20,"v":1},{"r":20,"c":21,"v":11},{"r":20,"c":22,"v":1},{"r":20,"c":23,"v":1},{"r":20,"c":24,"v":1},{"r":20,"c":25,"v":1},{"r":20,"c":26,"v":1},{"r":20,"c":27,"v":1},{"r":20,"c":28,"v":1},{"r":20,"c":29,"v":1},{"r":20,"c":30,"v":1},{"r":20,"c":31,"v":1},{"r":20,"c":32,"v":1},{"r":20,"c":33,"v":1},{"r":20,"c":34,"v":1},{"r":20,"c":35,"v":1},{"r":20,"c":36,"v":1},{"r":20,"c":37,"v":1},{"r":20,"c":38,"v":1},{"r":20,"c":39,"v":1},{"r":20,"c":40,"v":1},
{"r":21,"c":1,"v":1},{"r":21,"c":2,"v":1},{"r":21,"c":3,"v":1},{"r":21,"c":4,"v":1},{"r":21,"c":5,"v":1},{"r":21,"c":6,"v":1},{"r":21,"c":7,"v":1},{"r":21,"c":8,"v":1},{"r":21,"c":9,"v":1},{"r":21,"c":10,"v":1},{"r":21,"c":11,"v":1},{"r":21,"c":12,"v":1},{"r":21,"c":13,"v":1},{"r":21,"c":14,"v":1},{"r":21,"c":15,"v":1},{"r":21,"c":16,"v":1},{"r":21,"c":17,"v":1},{"r":21,"c":18,"v":1},{"r":21,"c":19,"v":1},{"r":21,"c":20,"v":11},{"r":21,"c":21,"v":1},{"r":21,"c":22,"v":1},{"r":21,"c":23,"v":1},{"r":21,"c":24,"v":1},{"r":21,"c":25,"v":1},{"r":21,"c":26,"v":1},{"r":21,"c":27,"v":1},{"r":21,"c":28,"v":1},{"r":21,"c":29,"v":1},{"r":21,"c":30,"v":1},{"r":21,"c":31,"v":1},{"r":21,"c":32,"v":1},{"r":21,"c":33,"v":1},{"r":21,"c":34,"v":1},{"r":21,"c":35,"v":1},{"r":21,"c":36,"v":1},{"r":21,"c":37,"v":1},{"r":21,"c":38,"v":1},{"r":21,"c":39,"v":1},{"r":21,"c":40,"v":1},
{"r":22,"c":1,"v":1},{"r":22,"c":2,"v":1},{"r":22,"c":3,"v":1},{"r":22,"c":4,"v":1},{"r":22,"c":5,"v":1},{"r":22,"c":6,"v":1},{"r":22,"c":7,"v":1},{"r":22,"c":8,"v":1},{"r":22,"c":9,"v":1},{"r":22,"c":10,"v":1},{"r":22,"c":11,"v":1},{"r":22,"c":12,"v":1},{"r":22,"c":13,"v":1},{"r":22,"c":14,"v":1},{"r":22,"c":15,"v":1},{"r":22,"c":16,"v":1},{"r":22,"c":17,"v":1},{"r":22,"c":18,"v":1},{"r":22,"c":19,"v":11},{"r":22,"c":20,"v":1},{"r":22,"c":21,"v":1},{"r":22,"c":22,"v":1},{"r":22,"c":23,"v":1},{"r":22,"c":24,"v":1},{"r":22,"c":25,"v":1},{"r":22,"c":26,"v":1},{"r":22,"c":27,"v":1},{"r":22,"c":28,"v":1},{"r":22,"c":29,"v":1},{"r":22,"c":30,"v":1},{"r":22,"c":31,"v":1},{"r":22,"c":32,"v":1},{"r":22,"c":33,"v":1},{"r":22,"c":34,"v":1},{"r":22,"c":35,"v":1},{"r":22,"c":36,"v":1},{"r":22,"c":37,"v":1},{"r":22,"c":38,"v":1},{"r":22,"c":39,"v":1},{"r":22,"c":40,"v":1},
{"r":23,"c":1,"v":1},{"r":23,"c":2,"v":1},{"r":23,"c":3,"v":1},{"r":23,"c":4,"v":1},{"r":23,"c":5,"v":1},{"r":23,"c":6,"v":1},{"r":23,"c":7,"v":1},{"r":23,"c":8,"v":1},{"r":23,"c":9,"v":1},{"r":23,"c":10,"v":1},{"r":23,"c":11,"v":1},{"r":23,"c":12,"v":1},{"r":23,"c":13,"v":1},{"r":23,"c":14,"v":1},{"r":23,"c":15,"v":1},{"r":23,"c":16,"v":1},{"r":23,"c":17,"v":1},{"r":23,"c":18,"v":11},{"r":23,"c":19,"v":1},{"r":23,"c":20,"v":1},{"r":23,"c":21,"v":1},{"r":23,"c":22,"v":1},{"r":23,"c":23,"v":1},{"r":23,"c":24,"v":1},{"r":23,"c":25,"v":1},{"r":23,"c":26,"v":1},{"r":23,"c":27,"v":1},{"r":23,"c":28,"v":1},{"r":23,"c":29,"v":1},{"r":23,"c":30,"v":1},{"r":23,"c":31,"v":1},{"r":23,"c":32,"v":1},{"r":23,"c":33,"v":1},{"r":23,"c":34,"v":1},{"r":23,"c":35,"v":1},{"r":23,"c":36,"v":1},{"r":23,"c":37,"v":1},{"r":23,"c":38,"v":1},{"r":23,"c":39,"v":1},{"r":23,"c":40,"v":1},
{"r":24,"c":1,"v":1},{"r":24,"c":2,"v":1},{"r":24,"c":3,"v":1},{"r":24,"c":4,"v":1},{"r":24,"c":5,"v":1},{"r":24,"c":6,"v":1},{"r":24,"c":7,"v":1},{"r":24,"c":8,"v":1},{"r":24,"c":9,"v":1},{"r":24,"c":10,"v":1},{"r":24,"c":11,"v":1},{"r":24,"c":12,"v":1},{"r":24,"c":13,"v":1},{"r":24,"c":14,"v":1},{"r":24,"c":15,"v":1},{"r":24,"c":16,"v":4},{"r":24,"c":17,"v":11},{"r":24,"c":18,"v":1},{"r":24,"c":19,"v":1},{"r":24,"c":20,"v":1},{"r":24,"c":21,"v":1},{"r":24,"c":22,"v":1},{"r":24,"c":23,"v":1},{"r":24,"c":24,"v":1},{"r":24,"c":25,"v":1},{"r":24,"c":26,"v":1},{"r":24,"c":27,"v":1},{"r":24,"c":28,"v":1},{"r":24,"c":29,"v":1},{"r":24,"c":30,"v":1},{"r":24,"c":31,"v":1},{"r":24,"c":32,"v":1},{"r":24,"c":33,"v":1},{"r":24,"c":34,"v":1},{"r":24,"c":35,"v":1},{"r":24,"c":36,"v":1},{"r":24,"c":37,"v":1},{"r":24,"c":38,"v":1},{"r":24,"c":39,"v":1},{"r":24,"c":40,"v":1},
{"r":25,"c":1,"v":1},{"r":25,"c":2,"v":1},{"r":25,"c":3,"v":1},{"r":25,"c":4,"v":1},{"r":25,"c":5,"v":1},{"r":25,"c":6,"v":1},{"r":25,"c":7,"v":1},{"r":25,"c":8,"v":1},{"r":25,"c":9,"v":1},{"r":25,"c":10,"v":1},{"r":25,"c":11,"v":1},{"r":25,"c":12,"v":1},{"r":25,"c":13,"v":1},{"r":25,"c":14,"v":1},{"r":25,"c":15,"v":1},{"r":25,"c":16,"v":11},{"r":25,"c":17,"v":4},{"r":25,"c":18,"v":1},{"r":25,"c":19,"v":1},{"r":25,"c":20,"v":1},{"r":25,"c":21,"v":1},{"r":25,"c":22,"v":1},{"r":25,"c":23,"v":1},{"r":25,"c":24,"v":1},{"r":25,"c":25,"v":1},{"r":25,"c":26,"v":1},{"r":25,"c":27,"v":1},{"r":25,"c":28,"v":1},{"r":25,"c":29,"v":1},{"r":25,"c":30,"v":1},{"r":25,"c":31,"v":1},{"r":25,"c":32,"v":1},{"r":25,"c":33,"v":1},{"r":25,"c":34,"v":1},{"r":25,"c":35,"v":1},{"r":25,"c":36,"v":1},{"r":25,"c":37,"v":1},{"r":25,"c":38,"v":1},{"r":25,"c":39,"v":1},{"r":25,"c":40,"v":1},
{"r":26,"c":1,"v":1},{"r":26,"c":2,"v":1},{"r":26,"c":3,"v":1},{"r":26,"c":4,"v":1},{"r":26,"c":5,"v":1},{"r":26,"c":6,"v":1},{"r":26,"c":7,"v":1},{"r":26,"c":8,"v":1},{"r":26,"c":9,"v":1},{"r":26,"c":10,"v":1},{"r":26,"c":11,"v":1},{"r":26,"c":12,"v":4},{"r":26,"c":13,"v":1},{"r":26,"c":14,"v":2},{"r":26,"c":15,"v":11},{"r":26,"c":16,"v":1},{"r":26,"c":17,"v":1},{"r":26,"c":18,"v":1},{"r":26,"c":19,"v":1},{"r":26,"c":20,"v":1},{"r":26,"c":21,"v":1},{"r":26,"c":22,"v":1},{"r":26,"c":23,"v":1},{"r":26,"c":24,"v":1},{"r":26,"c":25,"v":1},{"r":26,"c":26,"v":1},{"r":26,"c":27,"v":1},{"r":26,"c":28,"v":1},{"r":26,"c":29,"v":1},{"r":26,"c":30,"v":1},{"r":26,"c":31,"v":1},{"r":26,"c":32,"v":1},{"r":26,"c":33,"v":1},{"r":26,"c":34,"v":1},{"r":26,"c":35,"v":1},{"r":26,"c":36,"v":1},{"r":26,"c":37,"v":1},{"r":26,"c":38,"v":1},{"r":26,"c":39,"v":1},{"r":26,"c":40,"v":1},
{"r":27,"c":1,"v":1},{"r":27,"c":2,"v":1},{"r":27,"c":3,"v":1},{"r":27,"c":4,"v":1},{"r":27,"c":5,"v":1},{"r":27,"c":6,"v":1},{"r":27,"c":7,"v":1},{"r":27,"c":8,"v":1},{"r":27,"c":9,"v":1},{"r":27,"c":10,"v":1},{"r":27,"c":11,"v":1},{"r":27,"c":12,"v":1},{"r":27,"c":13,"v":1},{"r":27,"c":14,"v":11},{"r":27,"c":15,"v":2},{"r":27,"c":16,"v":1},{"r":27,"c":17,"v":1},{"r":27,"c":18,"v":1},{"r":27,"c":19,"v":1},{"r":27,"c":20,"v":1},{"r":27,"c":21,"v":1},{"r":27,"c":22,"v":1},{"r":27,"c":23,"v":1},{"r":27,"c":24,"v":1},{"r":27,"c":25,"v":1},{"r":27,"c":26,"v":1},{"r":27,"c":27,"v":1},{"r":27,"c":28,"v":1},{"r":27,"c":29,"v":1},{"r":27,"c":30,"v":1},{"r":27,"c":31,"v":1},{"r":27,"c":32,"v":1},{"r":27,"c":33,"v":1},{"r":27,"c":34,"v":1},{"r":27,"c":35,"v":1},{"r":27,"c":36,"v":1},{"r":27,"c":37,"v":1},{"r":27,"c":38,"v":1},{"r":27,"c":39,"v":1},{"r":27,"c":40,"v":1},
{"r":28,"c":1,"v":2},{"r":28,"c":2,"v":1},{"r":28,"c":3,"v":1},{"r":28,"c":4,"v":1},{"r":28,"c":5,"v":1},{"r":28,"c":6,"v":1},{"r":28,"c":7,"v":1},{"r":28,"c":8,"v":1},{"r":28,"c":9,"v":1},{"r":28,"c":10,"v":1},{"r":28,"c":11,"v":2},{"r":28,"c":12,"v":4},{"r":28,"c":13,"v":10},{"r":28,"c":14,"v":1},{"r":28,"c":15,"v":1},{"r":28,"c":16,"v":1},{"r":28,"c":17,"v":1},{"r":28,"c":18,"v":1},{"r":28,"c":19,"v":1},{"r":28,"c":20,"v":1},{"r":28,"c":21,"v":1},{"r":28,"c":22,"v":1},{"r":28,"c":23,"v":1},{"r":28,"c":24,"v":1},{"r":28,"c":25,"v":1},{"r":28,"c":26,"v":1},{"r":28,"c":27,"v":1},{"r":28,"c":28,"v":1},{"r":28,"c":29,"v":1},{"r":28,"c":30,"v":1},{"r":28,"c":31,"v":2},{"r":28,"c":32,"v":2},{"r":28,"c":33,"v":1},{"r":28,"c":34,"v":1},{"r":28,"c":35,"v":1},{"r":28,"c":36,"v":1},{"r":28,"c":37,"v":1},{"r":28,"c":38,"v":1},{"r":28,"c":39,"v":3},{"r":28,"c":40,"v":1},
{"r":29,"c":1,"v":1},{"r":29,"c":2,"v":1},{"r":29,"c":3,"v":1},{"r":29,"c":4,"v":1},{"r":29,"c":5,"v":1},{"r":29,"c":6,"v":1},{"r":29,"c":7,"v":1},{"r":29,"c":8,"v":1},{"r":29,"c":9,"v":1},{"r":29,"c":10,"v":1},{"r":29,"c":11,"v":1},{"r":29,"c":12,"v":11},{"r":29,"c":13,"v":5},{"r":29,"c":14,"v":1},{"r":29,"c":15,"v":3},{"r":29,"c":16,"v":1},{"r":29,"c":17,"v":1},{"r":29,"c":18,"v":1},{"r":29,"c":19,"v":1},{"r":29,"c":20,"v":1},{"r":29,"c":21,"v":1},{"r":29,"c":22,"v":1},{"r":29,"c":23,"v":1},{"r":29,"c":24,"v":1},{"r":29,"c":25,"v":1},{"r":29,"c":26,"v":1},{"r":29,"c":27,"v":1},{"r":29,"c":28,"v":1},{"r":29,"c":29,"v":1},{"r":29,"c":30,"v":1},{"r":29,"c":31,"v":1},{"r":29,"c":32,"v":1},{"r":29,"c":33,"v":1},{"r":29,"c":34,"v":1},{"r":29,"c":35,"v":1},{"r":29,"c":36,"v":1},{"r":29,"c":37,"v":1},{"r":29,"c":38,"v":1},{"r":29,"c":39,"v":1},{"r":29,"c":40,"v":1},
{"r":30,"c":1,"v":1},{"r":30,"c":2,"v":1},{"r":30,"c":3,"v":1},{"r":30,"c":4,"v":1},{"r":30,"c":5,"v":1},{"r":30,"c":6,"v":1},{"r":30,"c":7,"v":1},{"r":30,"c":8,"v":1},{"r":30,"c":9,"v":1},{"r":30,"c":10,"v":1},{"r":30,"c":11,"v":11},{"r":30,"c":12,"v":1},{"r":30,"c":13,"v":2},{"r":30,"c":14,"v":1},{"r":30,"c":15,"v":1},{"r":30,"c":16,"v":1},{"r":30,"c":17,"v":1},{"r":30,"c":18,"v":1},{"r":30,"c":19,"v":1},{"r":30,"c":20,"v":1},{"r":30,"c":21,"v":1},{"r":30,"c":22,"v":1},{"r":30,"c":23,"v":1},{"r":30,"c":24,"v":1},{"r":30,"c":25,"v":1},{"r":30,"c":26,"v":1},{"r":30,"c":27,"v":1},{"r":30,"c":28,"v":1},{"r":30,"c":29,"v":1},{"r":30,"c":30,"v":1},{"r":30,"c":31,"v":1},{"r":30,"c":32,"v":1},{"r":30,"c":33,"v":1},{"r":30,"c":34,"v":1},{"r":30,"c":35,"v":1},{"r":30,"c":36,"v":1},{"r":30,"c":37,"v":1},{"r":30,"c":38,"v":1},{"r":30,"c":39,"v":1},{"r":30,"c":40,"v":1},
{"r":31,"c":1,"v":0},{"r":31,"c":2,"v":1},{"r":31,"c":3,"v":1},{"r":31,"c":4,"v":0},{"r":31,"c":5,"v":1},{"r":31,"c":6,"v":0},{"r":31,"c":7,"v":0},{"r":31,"c":8,"v":2},{"r":31,"c":9,"v":2},{"r":31,"c":10,"v":10},{"r":31,"c":11,"v":0},{"r":31,"c":12,"v":0},{"r":31,"c":13,"v":0},{"r":31,"c":14,"v":0},{"r":31,"c":15,"v":0},{"r":31,"c":16,"v":0},{"r":31,"c":17,"v":0},{"r":31,"c":18,"v":0},{"r":31,"c":19,"v":0},{"r":31,"c":20,"v":0},{"r":31,"c":21,"v":0},{"r":31,"c":22,"v":0},{"r":31,"c":23,"v":0},{"r":31,"c":24,"v":3},{"r":31,"c":25,"v":3},{"r":31,"c":26,"v":1},{"r":31,"c":27,"v":2},{"r":31,"c":28,"v":0},{"r":31,"c":29,"v":1},{"r":31,"c":30,"v":1},{"r":31,"c":31,"v":1},{"r":31,"c":32,"v":1},{"r":31,"c":33,"v":3},{"r":31,"c":34,"v":3},{"r":31,"c":35,"v":2},{"r":31,"c":36,"v":1},{"r":31,"c":37,"v":2},{"r":31,"c":38,"v":3},{"r":31,"c":39,"v":2},{"r":31,"c":40,"v":2},
{"r":32,"c":1,"v":1},{"r":32,"c":2,"v":1},{"r":32,"c":3,"v":1},{"r":32,"c":4,"v":1},{"r":32,"c":5,"v":1},{"r":32,"c":6,"v":1},{"r":32,"c":7,"v":1},{"r":32,"c":8,"v":2},{"r":32,"c":9,"v":11},{"r":32,"c":10,"v":2},{"r":32,"c":11,"v":1},{"r":32,"c":12,"v":1},{"r":32,"c":13,"v":1},{"r":32,"c":14,"v":1},{"r":32,"c":15,"v":1},{"r":32,"c":16,"v":1},{"r":32,"c":17,"v":1},{"r":32,"c":18,"v":1},{"r":32,"c":19,"v":1},{"r":32,"c":20,"v":1},{"r":32,"c":21,"v":1},{"r":32,"c":22,"v":1},{"r":32,"c":23,"v":1},{"r":32,"c":24,"v":2},{"r":32,"c":25,"v":2},{"r":32,"c":26,"v":1},{"r":32,"c":27,"v":1},{"r":32,"c":28,"v":1},{"r":32,"c":29,"v":1},{"r":32,"c":30,"v":1},{"r":32,"c":31,"v":1},{"r":32,"c":32,"v":1},{"r":32,"c":33,"v":1},{"r":32,"c":34,"v":1},{"r":32,"c":35,"v":1},{"r":32,"c":36,"v":1},{"r":32,"c":37,"v":1},{"r":32,"c":38,"v":1},{"r":32,"c":39,"v":1},{"r":32,"c":40,"v":1},
{"r":33,"c":1,"v":1},{"r":33,"c":2,"v":1},{"r":33,"c":3,"v":1},{"r":33,"c":4,"v":1},{"r":33,"c":5,"v":2},{"r":33,"c":6,"v":2},{"r":33,"c":7,"v":1},{"r":33,"c":8,"v":11},{"r":33,"c":9,"v":2},{"r":33,"c":10,"v":2},{"r":33,"c":11,"v":1},{"r":33,"c":12,"v":1},{"r":33,"c":13,"v":1},{"r":33,"c":14,"v":1},{"r":33,"c":15,"v":1},{"r":33,"c":16,"v":1},{"r":33,"c":17,"v":1},{"r":33,"c":18,"v":1},{"r":33,"c":19,"v":1},{"r":33,"c":20,"v":1},{"r":33,"c":21,"v":1},{"r":33,"c":22,"v":1},{"r":33,"c":23,"v":1},{"r":33,"c":24,"v":1},{"r":33,"c":25,"v":1},{"r":33,"c":26,"v":1},{"r":33,"c":27,"v":1},{"r":33,"c":28,"v":1},{"r":33,"c":29,"v":1},{"r":33,"c":30,"v":1},{"r":33,"c":31,"v":1},{"r":33,"c":32,"v":1},{"r":33,"c":33,"v":1},{"r":33,"c":34,"v":1},{"r":33,"c":35,"v":1},{"r":33,"c":36,"v":1},{"r":33,"c":37,"v":1},{"r":33,"c":38,"v":1},{"r":33,"c":39,"v":1},{"r":33,"c":40,"v":1},
{"r":34,"c":1,"v":1},{"r":34,"c":2,"v":1},{"r":34,"c":3,"v":0},{"r":34,"c":4,"v":0},{"r":34,"c":5,"v":3},{"r":34,"c":6,"v":0},{"r":34,"c":7,"v":10},{"r":34,"c":8,"v":0},{"r":34,"c":9,"v":1},{"r":34,"c":10,"v":0},{"r":34,"c":11,"v":0},{"r":34,"c":12,"v":0},{"r":34,"c":13,"v":0},{"r":34,"c":14,"v":0},{"r":34,"c":15,"v":0},{"r":34,"c":16,"v":0},{"r":34,"c":17,"v":0},{"r":34,"c":18,"v":1},{"r":34,"c":19,"v":0},{"r":34,"c":20,"v":0},{"r":34,"c":21,"v":0},{"r":34,"c":22,"v":0},{"r":34,"c":23,"v":0},{"r":34,"c":24,"v":3},{"r":34,"c":25,"v":2},{"r":34,"c":26,"v":1},{"r":34,"c":27,"v":1},{"r":34,"c":28,"v":1},{"r":34,"c":29,"v":3},{"r":34,"c":30,"v":1},{"r":34,"c":31,"v":3},{"r":34,"c":32,"v":1},{"r":34,"c":33,"v":2},{"r":34,"c":34,"v":2},{"r":34,"c":35,"v":2},{"r":34,"c":36,"v":1},{"r":34,"c":37,"v":1},{"r":34,"c":38,"v":1},{"r":34,"c":39,"v":1},{"r":34,"c":40,"v":1},
{"r":35,"c":1,"v":1},{"r":35,"c":2,"v":1},{"r":35,"c":3,"v":1},{"r":35,"c":4,"v":1},{"r":35,"c":5,"v":1},{"r":35,"c":6,"v":10},{"r":35,"c":7,"v":1},{"r":35,"c":8,"v":2},{"r":35,"c":9,"v":1},{"r":35,"c":10,"v":1},{"r":35,"c":11,"v":1},{"r":35,"c":12,"v":1},{"r":35,"c":13,"v":2},{"r":35,"c":14,"v":1},{"r":35,"c":15,"v":1},{"r":35,"c":16,"v":1},{"r":35,"c":17,"v":1},{"r":35,"c":18,"v":1},{"r":35,"c":19,"v":1},{"r":35,"c":20,"v":1},{"r":35,"c":21,"v":1},{"r":35,"c":22,"v":1},{"r":35,"c":23,"v":1},{"r":35,"c":24,"v":6},{"r":35,"c":25,"v":1},{"r":35,"c":26,"v":1},{"r":35,"c":27,"v":1},{"r":35,"c":28,"v":1},{"r":35,"c":29,"v":1},{"r":35,"c":30,"v":1},{"r":35,"c":31,"v":1},{"r":35,"c":32,"v":1},{"r":35,"c":33,"v":1},{"r":35,"c":34,"v":1},{"r":35,"c":35,"v":1},{"r":35,"c":36,"v":1},{"r":35,"c":37,"v":1},{"r":35,"c":38,"v":1},{"r":35,"c":39,"v":1},{"r":35,"c":40,"v":1},
{"r":36,"c":1,"v":2},{"r":36,"c":2,"v":2},{"r":36,"c":3,"v":3},{"r":36,"c":4,"v":4},{"r":36,"c":5,"v":8},{"r":36,"c":6,"v":0},{"r":36,"c":7,"v":3},{"r":36,"c":8,"v":1},{"r":36,"c":9,"v":0},{"r":36,"c":10,"v":1},{"r":36,"c":11,"v":0},{"r":36,"c":12,"v":0},{"r":36,"c":13,"v":0},{"r":36,"c":14,"v":0},{"r":36,"c":15,"v":0},{"r":36,"c":16,"v":0},{"r":36,"c":17,"v":0},{"r":36,"c":18,"v":0},{"r":36,"c":19,"v":0},{"r":36,"c":20,"v":0},{"r":36,"c":21,"v":0},{"r":36,"c":22,"v":0},{"r":36,"c":23,"v":0},{"r":36,"c":24,"v":3},{"r":36,"c":25,"v":1},{"r":36,"c":26,"v":1},{"r":36,"c":27,"v":1},{"r":36,"c":28,"v":1},{"r":36,"c":29,"v":2},{"r":36,"c":30,"v":1},{"r":36,"c":31,"v":3},{"r":36,"c":32,"v":1},{"r":36,"c":33,"v":2},{"r":36,"c":34,"v":2},{"r":36,"c":35,"v":1},{"r":36,"c":36,"v":0},{"r":36,"c":37,"v":0},{"r":36,"c":38,"v":1},{"r":36,"c":39,"v":0},{"r":36,"c":40,"v":0},
{"r":37,"c":1,"v":3},{"r":37,"c":2,"v":3},{"r":37,"c":3,"v":3},{"r":37,"c":4,"v":8},{"r":37,"c":5,"v":4},{"r":37,"c":6,"v":0},{"r":37,"c":7,"v":0},{"r":37,"c":8,"v":0},{"r":37,"c":9,"v":1},{"r":37,"c":10,"v":0},{"r":37,"c":11,"v":0},{"r":37,"c":12,"v":0},{"r":37,"c":13,"v":0},{"r":37,"c":14,"v":0},{"r":37,"c":15,"v":0},{"r":37,"c":16,"v":0},{"r":37,"c":17,"v":0},{"r":37,"c":18,"v":0},{"r":37,"c":19,"v":0},{"r":37,"c":20,"v":0},{"r":37,"c":21,"v":0},{"r":37,"c":22,"v":0},{"r":37,"c":23,"v":0},{"r":37,"c":24,"v":3},{"r":37,"c":25,"v":1},{"r":37,"c":26,"v":1},{"r":37,"c":27,"v":1},{"r":37,"c":28,"v":0},{"r":37,"c":29,"v":1},{"r":37,"c":30,"v":2},{"r":37,"c":31,"v":2},{"r":37,"c":32,"v":2},{"r":37,"c":33,"v":1},{"r":37,"c":34,"v":2},{"r":37,"c":35,"v":1},{"r":37,"c":36,"v":2},{"r":37,"c":37,"v":1},{"r":37,"c":38,"v":0},{"r":37,"c":39,"v":1},{"r":37,"c":40,"v":1},
{"r":38,"c":1,"v":3},{"r":38,"c":2,"v":2},{"r":38,"c":3,"v":10},{"r":38,"c":4,"v":3},{"r":38,"c":5,"v":4},{"r":38,"c":6,"v":1},{"r":38,"c":7,"v":1},{"r":38,"c":8,"v":1},{"r":38,"c":9,"v":1},{"r":38,"c":10,"v":1},{"r":38,"c":11,"v":1},{"r":38,"c":12,"v":1},{"r":38,"c":13,"v":1},{"r":38,"c":14,"v":1},{"r":38,"c":15,"v":1},{"r":38,"c":16,"v":1},{"r":38,"c":17,"v":1},{"r":38,"c":18,"v":1},{"r":38,"c":19,"v":1},{"r":38,"c":20,"v":1},{"r":38,"c":21,"v":1},{"r":38,"c":22,"v":1},{"r":38,"c":23,"v":1},{"r":38,"c":24,"v":2},{"r":38,"c":25,"v":1},{"r":38,"c":26,"v":1},{"r":38,"c":27,"v":1},{"r":38,"c":28,"v":1},{"r":38,"c":29,"v":1},{"r":38,"c":30,"v":1},{"r":38,"c":31,"v":2},{"r":38,"c":32,"v":1},{"r":38,"c":33,"v":1},{"r":38,"c":34,"v":1},{"r":38,"c":35,"v":1},{"r":38,"c":36,"v":1},{"r":38,"c":37,"v":1},{"r":38,"c":38,"v":1},{"r":38,"c":39,"v":1},{"r":38,"c":40,"v":1},
{"r":39,"c":1,"v":3},{"r":39,"c":2,"v":9},{"r":39,"c":3,"v":2},{"r":39,"c":4,"v":3},{"r":39,"c":5,"v":2},{"r":39,"c":6,"v":0},{"r":39,"c":7,"v":1},{"r":39,"c":8,"v":0},{"r":39,"c":9,"v":0},{"r":39,"c":10,"v":1},{"r":39,"c":11,"v":0},{"r":39,"c":12,"v":0},{"r":39,"c":13,"v":0},{"r":39,"c":14,"v":0},{"r":39,"c":15,"v":0},{"r":39,"c":16,"v":0},{"r":39,"c":17,"v":0},{"r":39,"c":18,"v":1},{"r":39,"c":19,"v":0},{"r":39,"c":20,"v":0},{"r":39,"c":21,"v":0},{"r":39,"c":22,"v":0},{"r":39,"c":23,"v":0},{"r":39,"c":24,"v":5},{"r":39,"c":25,"v":0},{"r":39,"c":26,"v":3},{"r":39,"c":27,"v":3},{"r":39,"c":28,"v":2},{"r":39,"c":29,"v":1},{"r":39,"c":30,"v":1},{"r":39,"c":31,"v":1},{"r":39,"c":32,"v":1},{"r":39,"c":33,"v":3},{"r":39,"c":34,"v":1},{"r":39,"c":35,"v":2},{"r":39,"c":36,"v":4},{"r":39,"c":37,"v":1},{"r":39,"c":38,"v":1},{"r":39,"c":39,"v":1},{"r":39,"c":40,"v":1},
{"r":40,"c":1,"v":10},{"r":40,"c":2,"v":3},{"r":40,"c":3,"v":3},{"r":40,"c":4,"v":3},{"r":40,"c":5,"v":2},{"r":40,"c":6,"v":0},{"r":40,"c":7,"v":1},{"r":40,"c":8,"v":0},{"r":40,"c":9,"v":0},{"r":40,"c":10,"v":0},{"r":40,"c":11,"v":0},{"r":40,"c":12,"v":0},{"r":40,"c":13,"v":1},{"r":40,"c":14,"v":0},{"r":40,"c":15,"v":0},{"r":40,"c":16,"v":0},{"r":40,"c":17,"v":0},{"r":40,"c":18,"v":0},{"r":40,"c":19,"v":0},{"r":40,"c":20,"v":0},{"r":40,"c":21,"v":0},{"r":40,"c":22,"v":0},{"r":40,"c":23,"v":0},{"r":40,"c":24,"v":2},{"r":40,"c":25,"v":1},{"r":40,"c":26,"v":0},{"r":40,"c":27,"v":2},{"r":40,"c":28,"v":0},{"r":40,"c":29,"v":2},{"r":40,"c":30,"v":2},{"r":40,"c":31,"v":2},{"r":40,"c":32,"v":2},{"r":40,"c":33,"v":2},{"r":40,"c":34,"v":1},{"r":40,"c":35,"v":1},{"r":40,"c":36,"v":2},{"r":40,"c":37,"v":1},{"r":40,"c":38,"v":0},{"r":40,"c":39,"v":2},{"r":40,"c":40,"v":3}
]
},
"concat": [
{
"width": 262, "height": 261,
"data": {"values": [{"label": "A"}]},
"mark": {"type": "text", "font": "Liberation Sans", "fontSize": 48, "fontWeight": "bold", "align": "center", "baseline": "alphabetic", "color": "#000000"},
"encoding": {
"x": {"datum": -9.43, "type": "quantitative", "scale": {"domain": [-10.23, 0], "nice": false, "zero": false}, "axis": null},
"y": {"datum": 48.67, "type": "quantitative", "scale": {"domain": [40, 50.2], "nice": false, "zero": false}, "axis": null},
"text": {"field": "label"}
}
},
{
"width": 1024, "height": 261,
"data": {"name": "topTree"},
"layer": [
{"mark": {"type": "rule", "color": "#7a7a7a", "strokeWidth": 1.6},
"encoding": {"x": {"field": "l", "type": "quantitative", "scale": {"domain": [0, 40], "nice": false, "zero": false}, "axis": null}, "y": {"field": "lh", "type": "quantitative", "scale": {"domain": [40, 50.2], "nice": false, "zero": false}, "axis": null}, "y2": {"field": "h"}}},
{"mark": {"type": "rule", "color": "#7a7a7a", "strokeWidth": 1.6},
"encoding": {"x": {"field": "r", "type": "quantitative", "scale": {"domain": [0, 40], "nice": false, "zero": false}, "axis": null}, "y": {"field": "rh", "type": "quantitative", "scale": {"domain": [40, 50.2], "nice": false, "zero": false}, "axis": null}, "y2": {"field": "h"}}},
{"mark": {"type": "rule", "color": "#7a7a7a", "strokeWidth": 1.6},
"encoding": {"x": {"field": "l", "type": "quantitative", "scale": {"domain": [0, 40], "nice": false, "zero": false}, "axis": null}, "x2": {"field": "r"}, "y": {"field": "h", "type": "quantitative", "scale": {"domain": [40, 50.2], "nice": false, "zero": false}, "axis": null}}}
]
},
{
"width": 262, "height": 1024,
"data": {"name": "leftTree"},
"layer": [
{"mark": {"type": "rule", "color": "#7a7a7a", "strokeWidth": 1.6},
"encoding": {"y": {"field": "l", "type": "quantitative", "scale": {"domain": [0, 40], "nice": false, "zero": false}, "axis": null}, "x": {"field": "lh", "type": "quantitative", "scale": {"domain": [-10.23, 0], "nice": false, "zero": false}, "axis": null}, "x2": {"field": "h"}}},
{"mark": {"type": "rule", "color": "#7a7a7a", "strokeWidth": 1.6},
"encoding": {"y": {"field": "r", "type": "quantitative", "scale": {"domain": [0, 40], "nice": false, "zero": false}, "axis": null}, "x": {"field": "rh", "type": "quantitative", "scale": {"domain": [-10.23, 0], "nice": false, "zero": false}, "axis": null}, "x2": {"field": "h"}}},
{"mark": {"type": "rule", "color": "#7a7a7a", "strokeWidth": 1.6},
"encoding": {"y": {"field": "l", "type": "quantitative", "scale": {"domain": [0, 40], "nice": false, "zero": false}, "axis": null}, "y2": {"field": "r"}, "x": {"field": "h", "type": "quantitative", "scale": {"domain": [-10.23, 0], "nice": false, "zero": false}, "axis": null}}}
]
},
{
"width": 1024, "height": 1024,
"data": {"name": "cells"},
"mark": {"type": "rect", "strokeWidth": 0.6},
"encoding": {
"x": {"field": "c", "type": "ordinal", "scale": {"paddingInner": 0, "paddingOuter": 0},
"axis": {"orient": "bottom", "title": null, "labelAngle": -90, "ticks": false, "domain": false, "labelPadding": 6, "labelFontSize": 25, "labelFont": "DejaVu Sans", "labelColor": "#111111", "labelOverlap": false,
"labelExpr": "['04670','04520','05130','05100','05131','04340','04621','04710','04120','04110','04966','04964','04971','00670','00910','00380','00340','05322','04977','03022','00603','00860','00534','05200','05222','05216','05210','04320','05160','05211','04722','04012','05212','05220','05215','05213','05218','05219','05214','05223'][datum.value-1]"}},
"y": {"field": "r", "type": "ordinal", "scale": {"paddingInner": 0, "paddingOuter": 0},
"axis": {"orient": "right", "title": null, "ticks": false, "domain": false, "labelPadding": 7, "labelFontSize": 25, "labelFont": "DejaVu Sans", "labelColor": "#111111", "labelOverlap": false, "labelLimit": 1000, "labelAlign": "left",
"labelExpr": "['Non-small cell lung cancer','Glioma','Bladder cancer','Melanoma','Endometrial cancer','Prostate cancer','Chronic myeloid leukemia','Pancreatic cancer','ErbB signaling pathway','Neurotrophin signaling pathway','Renal cell carcinoma','Hepatitis C','Dorso-ventral axis formation','Colorectal cancer','Thyroid cancer','Small cell lung cancer','Pathways in cancer','Glycosaminoglycan biosynthesis-heparan sulfate/heparin','Porphyrin and chlorophyll metabolism','Glycosphingolipid biosynthesis - globo series','Basal transcription factors','Vitamin digestion and absorption','Systemic lupus erythematosus','Histidine metabolism','Tryptophan metabolism','Nitrogen metabolism','One carbon pool by folate','Gastric acid secretion','Proximal tubule bicarbonate reclamation','Collecting duct acid secretion','Cell cycle','Ubiquitin mediated proteolysis','Circadian rhythm','NOD-like receptor signaling pathway','Hedgehog signaling pathway','Shigellosis','Bacterial invasion of epithelial cells','Pathogenic Escherichia coli infection','Adherens junction','Leukocyte transendothelial migration'][datum.value-1]"}},
"color": {"field": "v", "type": "ordinal", "scale": {"domain": [0,1,2,3,4,5,6,7,8,9,10,11], "range": ["#ff0000","#ff2000","#ff4500","#ff6200","#ff8000","#ff9f00","#ffbf00","#ffdf00","#ffff00","#ffff40","#ffff80","#ffffd5"]}, "legend": null},
"stroke": {"field": "v", "type": "ordinal", "scale": {"domain": [0,1,2,3,4,5,6,7,8,9,10,11], "range": ["#ff0000","#ff2000","#ff4500","#ff6200","#ff8000","#ff9f00","#ffbf00","#ffdf00","#ffff00","#ffff40","#ffff80","#ffffd5"]}, "legend": null}
}
}
]
}
